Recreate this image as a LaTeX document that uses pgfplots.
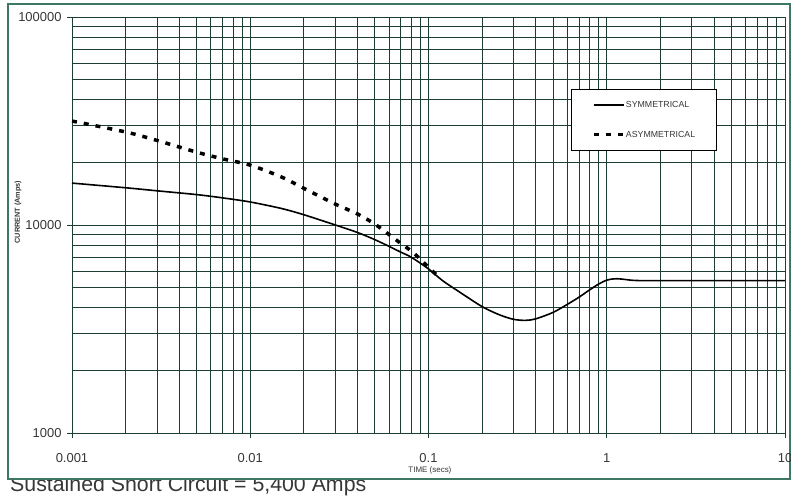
\documentclass[border=0pt]{standalone}
\usepackage{fontspec}
\setmainfont{Liberation Sans}
\usepackage{pgfplots}
\pgfplotsset{compat=1.18}
\definecolor{gridc}{RGB}{28,62,52}
\definecolor{framec}{RGB}{60,120,100}
\definecolor{txt}{RGB}{55,55,55}
\begin{document}
\begin{tikzpicture}
\useasboundingbox (0,0) rectangle (791bp,497bp);
\node[anchor=base west, inner sep=0pt, text=txt, font=\fontsize{21.4}{24}\selectfont] at (10bp,5.5bp) {Sustained Short Circuit = 5,400 Amps};
\draw[framec, line width=1.2bp, fill=white] (8bp,18bp) rectangle (790bp,493bp);
\begin{axis}[
  at={(72bp,64bp)}, anchor=south west,
  scale only axis, width=713bp, height=416bp,
  xmode=log, ymode=log,
  xmin=0.001, xmax=10, ymin=1000, ymax=100000,
  xtick={0.001,0.01,0.1,1,10}, xticklabels={0.001,0.01,0.1,1,10},
  ytick={1000,10000,100000}, yticklabels={1000,10000,100000},
  grid=both,
  major grid style={draw=gridc, line width=0.9bp},
  minor grid style={draw=gridc, line width=0.9bp},
  axis line style={draw=gridc, line width=0.9bp},
  tick style={draw=gridc, line width=0.9bp},
  tick align=outside, major tick length=5bp, minor tick length=0bp,
  xtick pos=bottom, ytick pos=left,
  ticklabel style={font=\fontsize{13}{15}\selectfont, text=txt},
  xticklabel style={yshift=-12bp},
  yticklabel style={xshift=-2bp},
  /pgf/number format/assume math mode=true,
  xlabel={TIME (secs)},
  xlabel style={at={(axis description cs:0.502,-0.091)}, anchor=center, font=\fontsize{8}{9}\selectfont, text=txt},
  ylabel={CURRENT (Amps)},
  ylabel style={at={(axis description cs:-0.0757,0.531)}, anchor=center, font=\fontsize{7.3}{8}\selectfont\bfseries, text=txt},
  legend style={at={(axis description cs:0.9046,0.827)}, anchor=north east,
    draw=black, line width=0.7bp, fill=white, text=txt,
    font=\fontsize{8.8}{9}\selectfont, inner xsep=21bp, inner ysep=11bp, row sep=20bp,
    nodes={inner xsep=0.5bp, inner ysep=1bp}},
  legend cell align=left,
  legend image code/.code={\draw[#1] (0bp,0bp) -- (30bp,0bp);},
]
\addplot[black, line width=1.6bp, smooth] coordinates {
(0.001,15900) (0.002,15100) (0.003,14600) (0.005,14000) (0.007,13500)
(0.01,12900) (0.015,12000) (0.02,11200) (0.03,10000) (0.04,9200)
(0.05,8500) (0.06,7900) (0.07,7400) (0.08,7000) (0.1,6150)
(0.12,5400) (0.15,4750) (0.2,4050) (0.25,3700) (0.3,3520)
(0.35,3480) (0.4,3540) (0.5,3800) (0.6,4150) (0.7,4500)
(0.8,4870) (0.9,5200) (1.0,5430) (1.1,5510) (1.2,5500)
(1.4,5420) (1.7,5400) (3,5400) (10,5400)
};
\addlegendentry{SYMMETRICAL}
\addplot[black, line width=3.5bp, dash pattern=on 5bp off 7bp, smooth] coordinates {
(0.001,31600) (0.002,28000) (0.003,25500) (0.005,22400) (0.007,20800)
(0.01,19400) (0.015,17000) (0.02,15000) (0.03,12600) (0.04,11300)
(0.05,10100) (0.06,9000) (0.07,8150) (0.08,7500) (0.09,6850)
(0.1,6250) (0.115,5600)
};
\addlegendentry{ASYMMETRICAL}
\end{axis}
\end{tikzpicture}
\end{document}
